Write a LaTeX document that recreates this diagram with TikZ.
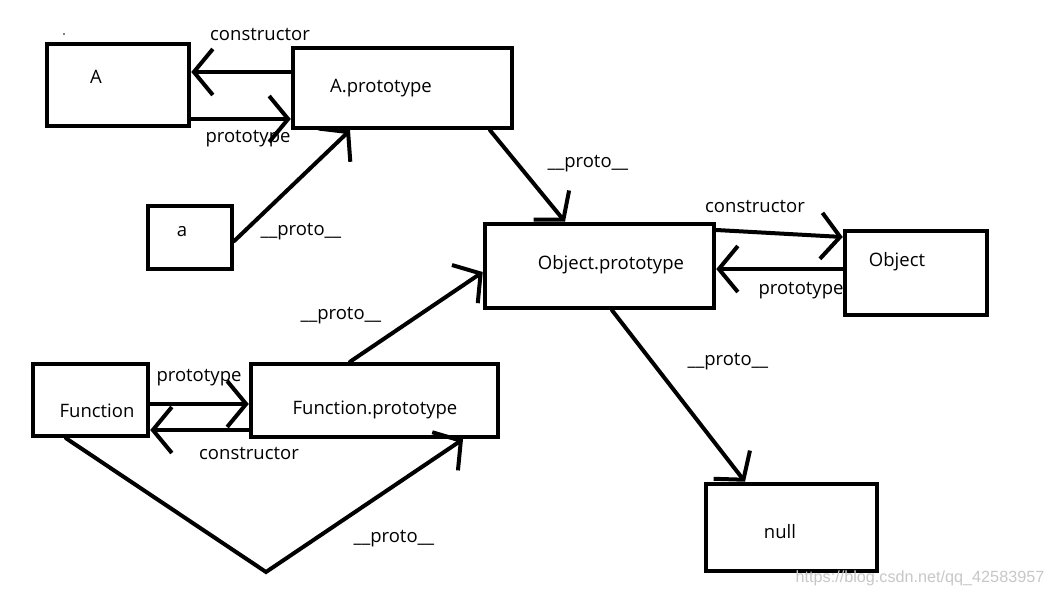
\documentclass[tikz,border=0pt]{standalone}
\usepackage{fontspec}
\setmainfont{Open Sans}
\usetikzlibrary{arrows.meta,calc}
\tikzset{
  box/.style={draw, line width=4.5pt, inner sep=0pt},
  lbl/.style={font=\fontsize{18.5}{20}\selectfont, inner sep=0pt},
  arr/.style={line width=4pt, line cap=round, -{Straight Barb[length=19pt,width=46pt,line width=4pt]}},
}
\begin{document}
\begin{tikzpicture}[x=1pt,y=-1pt]
\useasboundingbox (0,0) rectangle (1051,596);
% boxes
\node[box, minimum width=142pt, minimum height=82pt] (A) at (118,85) {};
\node[box, minimum width=219pt, minimum height=80pt] (Ap) at (402.5,88) {};
\node[box, minimum width=84pt, minimum height=63pt] (a) at (190,237.5) {};
\node[box, minimum width=229pt, minimum height=84pt] (Op) at (599.5,266) {};
\node[box, minimum width=142pt, minimum height=84pt] (O) at (916,273) {};
\node[box, minimum width=115pt, minimum height=72pt] (F) at (90.5,400) {};
\node[box, minimum width=247pt, minimum height=73pt] (Fp) at (374.5,400.5) {};
\node[box, minimum width=171pt, minimum height=87pt] (N) at (791.5,527.5) {};
% box texts
\node[lbl] (tA) at (96,77) {A};
\node[lbl] (tAp) at (381,88) {A.prototype};
\node[lbl] (ta) at (182,232) {a};
\node[lbl] (tOp) at (611,265) {Object.prototype};
\node[lbl] (tO) at (897,262) {Object};
\node[lbl] (tF) at (97,411) {Function};
\node[lbl] (tFp) at (375,410) {Function.prototype};
\node[lbl] (tN) at (780,532) {null};
% edge labels
\node[lbl] (l1) at (260,34) {constructor};
\node[lbl] (l2) at (248,139) {prototype};
\node[lbl] (l3) at (301,232) {\_\_proto\_\_};
\node[lbl] (l4) at (588,164) {\_\_proto\_\_};
\node[lbl] (l5) at (755,206) {constructor};
\node[lbl] (l6) at (801,291) {prototype};
\node[lbl] (l7) at (341,316) {\_\_proto\_\_};
\node[lbl] (l8) at (728,362) {\_\_proto\_\_};
\node[lbl] (l9) at (199,378) {prototype};
\node[lbl] (l10) at (249,453) {constructor};
\node[lbl] (l11) at (394,539) {\_\_proto\_\_};
\node[font=\fontsize{16.2}{18}\selectfont\fontspec{Liberation Sans}, text=black!22, inner sep=0pt] (wm) at (920,578) {https://blog.csdn.net/qq\_42583957};
\fill (64,34) circle (0.8pt);
% connectors
\draw[arr] (Ap.west |- 0,72) -- (A.east |- 0,72);
\draw[arr] (A.east |- 0,119) -- (Ap.west |- 0,119);
\draw[arr] (a.east |- 0,241) -- (Ap.south -| 350,0);
\draw[arr] (Ap.south -| 490,0) -- (Op.north -| 565,0);
\draw[arr] (Op.east |- 0,230) -- (O.west |- 0,237);
\draw[arr] (O.west |- 0,269) -- (Op.east |- 0,269);
\draw[arr] (Op.south -| 612,0) -- (N.north -| 745,0);
\draw[arr] (Fp.north -| 350,0) -- (Op.west |- 0,272);
\draw[arr] (F.east |- 0,404) -- (Fp.west |- 0,404);
\draw[arr] (Fp.west |- 0,430) -- (F.east |- 0,430);
\coordinate (V) at (266,572);
\draw[arr] (F.south -| 66,0) -- (V) -- (Fp.south -| 463,0);
\end{tikzpicture}
\end{document}
